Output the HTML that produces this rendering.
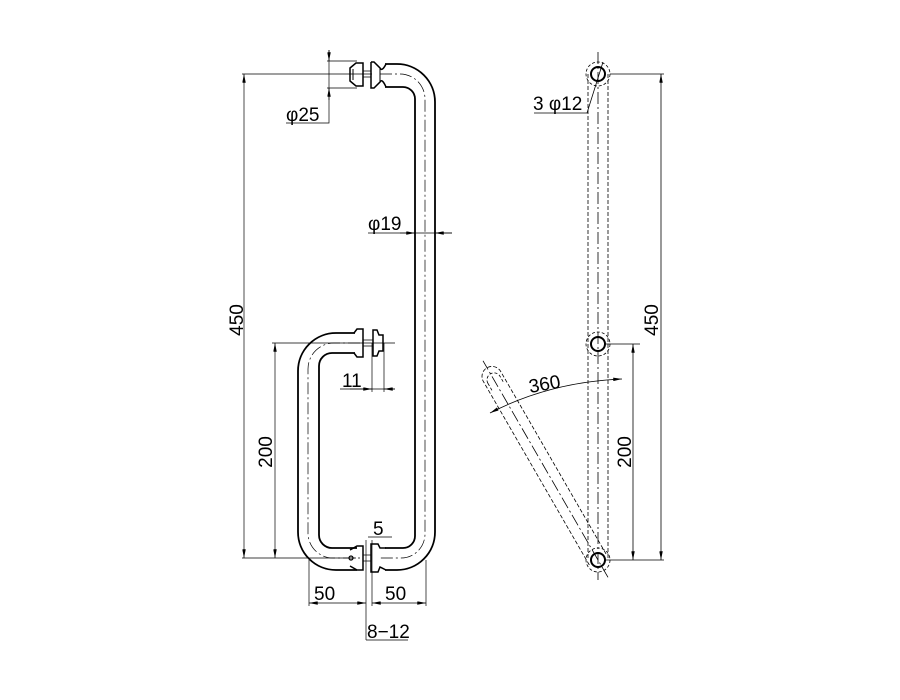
<!DOCTYPE html>
<html><head><style>html,body{margin:0;background:#fff}svg{display:block}</style></head>
<body>
<svg width="900" height="700" viewBox="0 0 900 700" xmlns="http://www.w3.org/2000/svg" font-family="Liberation Sans, sans-serif">
<defs>
<marker id="a" viewBox="0 0 10 4" refX="10" refY="2" markerWidth="9" markerHeight="3.5" orient="auto-start-reverse" markerUnits="userSpaceOnUse"><path d="M0,0L10,2L0,4z" fill="#000"/></marker>
</defs>
<g fill="none" stroke="#000">
<path d="M385,64 H397 A38,38 0 0 1 435,102 V532 A38,38 0 0 1 397,570 H385" stroke-width="1.8"/>
<path d="M385,87 H403 A12,12 0 0 1 415,99 V536 A12,12 0 0 1 403,548 H385" stroke-width="1.8"/>
<path d="M380,74 H400 A25,25 0 0 1 425,99 V534 A24,24 0 0 1 401,558 H380" stroke-width="0.7" stroke-dasharray="12,3,2,3"/>
<path d="M350,68 L356,63 H363 V86 H356 L350,81 Z" stroke-width="1.5"/>
<path d="M353,69 V80" stroke-width="1"/>
<path d="M371,62 H374 L380,68 Q382,72 386,64 M371,62 V88 H374 L380,82 Q382,78 386,87" stroke-width="1.5"/>
<path d="M380,68 V82" stroke-width="1"/>
<path d="M363,71 H371 M363,77 H371" stroke-width="0.8"/>
<path d="M355,333 H336 A38,38 0 0 0 298,371 V532 A38,38 0 0 0 336,570 H357" stroke-width="1.8"/>
<path d="M355,353 H332 A13,13 0 0 0 319,366 V535 A13,13 0 0 0 332,548 H357" stroke-width="1.8"/>
<path d="M360,343 H334 A26,26 0 0 0 308,369 V533 A25,25 0 0 0 333,558 H360" stroke-width="0.7" stroke-dasharray="12,3,2,3"/>
<path d="M354,333 L357,329 H363 V357 H357 L354,353" stroke-width="1.5"/>
<path d="M373,330 H377 L379,335 H383 V351 H379 L377,356 H373 Z" stroke-width="1.5"/>
<path d="M363,340 H373 M363,346 H373" stroke-width="0.8"/>
<path d="M350,550 L357,546 H363 V570 H357 L350,566" stroke-width="1.5"/>
<path d="M386,548 L380,548 L378,544 H371 V572 H378 L380,567 L386,570" stroke-width="1.5"/>
<path d="M363,555 H371 M363,561 H371" stroke-width="0.8"/>
<circle cx="351" cy="558" r="2" stroke-width="1.2"/>
<g stroke-width="0.7">
<path d="M242,74 H372 M242,558 H356 M272,343 H395"/>
<path d="M244,74 V558" marker-start="url(#a)" marker-end="url(#a)"/>
<path d="M275,343 V558" marker-start="url(#a)" marker-end="url(#a)"/>
<path d="M327,61 H357 M327,88 H357 M286,123 H329 V50"/>
<path d="M329,50 V61" marker-end="url(#a)"/><path d="M329,100 V88" marker-end="url(#a)"/>
<path d="M368,233 H452"/>
<path d="M400,233 H415" marker-end="url(#a)"/><path d="M452,233 H435" marker-end="url(#a)"/>
<path d="M372,343 V392 M384,343 V392 M340,389 H395"/>
<path d="M350,389 H372" marker-end="url(#a)"/><path d="M395,389 H384" marker-end="url(#a)"/>
<path d="M366,540 V572 M372,540 V572 M368,537 H392"/>
<path d="M309,560 V606 M426,560 V606 M366,572 V640 M372,572 V606 M366,640 H408"/>
<path d="M309,603 H366" marker-start="url(#a)" marker-end="url(#a)"/>
<path d="M372,603 H426" marker-start="url(#a)" marker-end="url(#a)"/>
</g>
<g stroke-width="0.8">
<path d="M588,74 V560 M608,74 V560" stroke-dasharray="4,2"/>
<path d="M598,52 V580" stroke-dasharray="12,3,2,3"/>
<circle cx="598" cy="74" r="12" stroke-dasharray="3,2"/><circle cx="598" cy="344" r="12" stroke-dasharray="3,2"/><circle cx="598" cy="560" r="12" stroke-dasharray="3,2"/>
<path d="M610,74 H664 M605,344 H640 M605,560 H664"/>
<path d="M661,74 V560" marker-start="url(#a)" marker-end="url(#a)"/>
<path d="M633,344 V560" marker-start="url(#a)" marker-end="url(#a)"/>
<path d="M534,113 H587 L603,62"/>
<g transform="rotate(-30 598 560)">
<path d="M588,560 V348 A10,10 0 0 1 608,348 V560" stroke-dasharray="4,2"/>
<path d="M591,352 A7,7 0 0 1 605,352 V360 M591,352 V360" stroke-dasharray="3,2"/>
<path d="M598,580 V330" stroke-dasharray="12,3,2,3"/>
</g>
<path d="M490,413 Q550,382 622,379" marker-start="url(#a)" marker-end="url(#a)"/>
</g>
<circle cx="598" cy="74" r="7" stroke-width="2"/><circle cx="598" cy="344" r="7" stroke-width="2"/><circle cx="598" cy="560" r="7" stroke-width="2"/>
</g>
<g font-size="19" fill="#000">
<text x="286" y="121">φ25</text>
<text x="368" y="230">φ19</text>
<text x="342" y="387">11</text>
<text x="373" y="535">5</text>
<text x="314" y="600">50</text>
<text x="385" y="600">50</text>
<text x="367" y="638">8−12</text>
<text transform="translate(243,320) rotate(-90)" text-anchor="middle">450</text>
<text transform="translate(272,452) rotate(-90)" text-anchor="middle">200</text>
<text x="533" y="110">3 φ12</text>
<text transform="translate(658,320) rotate(-90)" text-anchor="middle">450</text>
<text transform="translate(631,452) rotate(-90)" text-anchor="middle">200</text>
<text transform="translate(530,393) rotate(-10)">360</text>
</g>
</svg>
</body></html>
